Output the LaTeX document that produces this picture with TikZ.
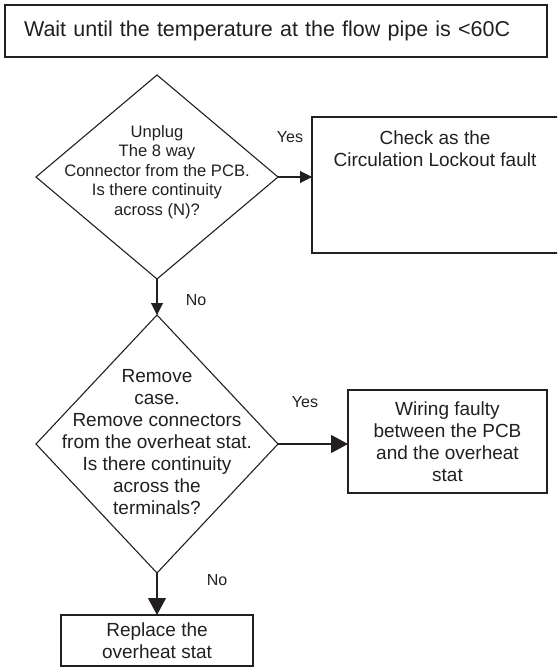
\documentclass[tikz,border=0pt]{standalone}
\usepackage{fontspec}
\setmainfont{Liberation Sans}
\usetikzlibrary{shapes.geometric,arrows.meta}

\definecolor{ink}{RGB}{35,31,32}

\tikzset{
  frame/.style={draw=ink, line width=1.1pt, rectangle, inner sep=0pt, outer sep=0pt, text=ink, align=center},
  decision/.style={draw=ink, line width=1.1pt, shape=diamond, inner sep=0pt, outer sep=0pt},
  words/.style={text=ink, align=center, inner sep=0pt},
  answer/.style={text=ink, inner sep=0pt, font=\fontsize{16}{19}\selectfont},
  flow/.style={draw=ink, line width=1.1pt, -{Triangle[length=12pt,width=12pt]}},
  bigflow/.style={draw=ink, line width=1.1pt, -{Triangle[length=17pt,width=18pt]}},
  fsmall/.style={font=\fontsize{16.6}{19.5}\selectfont},
  fmid/.style={font=\fontsize{19}{22}\selectfont},
}

\begin{document}
\begin{tikzpicture}[x=1pt, y=1pt]
  \useasboundingbox (0,0) rectangle (557,-668);
  \clip (0,0) rectangle (557,-668);

  % heading step
  \node[frame, minimum width=542pt, minimum height=52pt, text width=504pt,
        inner xsep=19pt, align=left, font=\fontsize{21.5}{24}\selectfont]
        (wait) at (276,-31) {Wait until the temperature at the flow pipe is <60C};

  % first check: 8 way connector
  \node[decision, minimum width=242pt, minimum height=204pt] (d1) at (157,-177) {};
  \node[words, fsmall] (d1t) at (157,-172) {Unplug\\The 8 way\\Connector from the PCB.\\Is there continuity\\across (N)?};

  % this box runs on past the right margin
  \node[frame, minimum width=252pt, minimum height=136pt] (lock) at (438,-185) {};
  \node[words, fmid] (lockt) at (435,-149) {Check as the\\Circulation Lockout fault};

  % second check: overheat stat
  \node[decision, minimum width=242pt, minimum height=258pt] (d2) at (157,-444) {};
  \node[words, fmid] (d2t) at (157,-442) {Remove\\case.\\Remove connectors\\from the overheat stat.\\Is there continuity\\across the\\terminals?};

  \node[frame, fmid, minimum width=199pt, minimum height=103pt] (wiring) at (447.5,-441.5)
        {Wiring faulty\\between the PCB\\and the overheat\\stat};

  \node[frame, fmid, minimum width=192pt, minimum height=51pt] (replace) at (157,-640.5)
        {Replace the\\overheat stat};

  % connectors
  \draw[flow] (d1.east) -- (d1.east -| lock.west);
  \draw[flow] (d1.south) -- (d2.north);
  \draw[bigflow] (d2.east) -- (d2.east -| wiring.west);
  \draw[bigflow] (d2.south) -- (replace.north);

  % branch labels
  \node[answer] (yes1) at (290,-137) {Yes};
  \node[answer] (no1) at (196,-300) {No};
  \node[answer] (yes2) at (305,-402) {Yes};
  \node[answer] (no2) at (217,-580) {No};
\end{tikzpicture}
\end{document}
